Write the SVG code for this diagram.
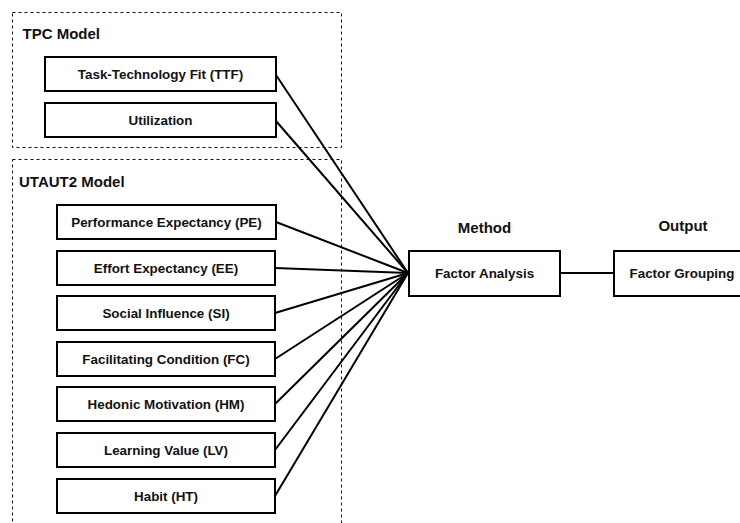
<svg xmlns="http://www.w3.org/2000/svg" width="740" height="523" viewBox="0 0 740 523">
<style>
.grp{fill:none;stroke:#111;stroke-width:1;stroke-dasharray:3 3}
.box{fill:#fff;stroke:#000;stroke-width:2}
.lbl{font-family:"Liberation Sans",Arial,sans-serif;font-weight:bold;font-size:13.4px;fill:#111;text-anchor:middle}
.ttl{font-family:"Liberation Sans",Arial,sans-serif;font-weight:bold;font-size:15px;fill:#111}
.con{stroke:#000;stroke-width:2;fill:none}
</style>
<rect width="740" height="523" fill="#fff"/>
<g id="tpc-group">
<rect class="grp" x="12.5" y="12.5" width="329" height="135"/>
<text class="ttl" x="22.5" y="39">TPC Model</text>
</g>
<g id="utaut2-group">
<rect class="grp" x="12.5" y="159.5" width="329" height="380"/>
<text class="ttl" x="19" y="187">UTAUT2 Model</text>
</g>
<g id="connectors">
<line class="con" x1="276" y1="75" x2="408" y2="273"/>
<line class="con" x1="276" y1="121" x2="408" y2="273"/>
<line class="con" x1="276" y1="222" x2="408" y2="273"/>
<line class="con" x1="275" y1="268" x2="408" y2="273"/>
<line class="con" x1="275" y1="313" x2="408" y2="273"/>
<line class="con" x1="275" y1="359" x2="408" y2="273"/>
<line class="con" x1="275" y1="404" x2="408" y2="273"/>
<line class="con" x1="275" y1="450" x2="408" y2="273"/>
<line class="con" x1="275" y1="496" x2="408" y2="273"/>
<line class="con" x1="560" y1="273" x2="614" y2="273"/>
</g>
<g id="ttf"><rect class="box" x="45" y="57" width="231" height="34"/><text class="lbl" x="160.5" y="78.8">Task-Technology Fit (TTF)</text></g>
<g id="utilization"><rect class="box" x="45" y="103" width="231" height="34"/><text class="lbl" x="160.5" y="124.8">Utilization</text></g>
<g id="pe"><rect class="box" x="57" y="205" width="219" height="34"/><text class="lbl" x="166.5" y="226.8">Performance Expectancy (PE)</text></g>
<g id="ee"><rect class="box" x="57" y="251" width="218" height="34"/><text class="lbl" x="166" y="272.8">Effort Expectancy (EE)</text></g>
<g id="si"><rect class="box" x="57" y="296" width="218" height="34"/><text class="lbl" x="166" y="317.8">Social Influence (SI)</text></g>
<g id="fc"><rect class="box" x="57" y="342" width="218" height="34"/><text class="lbl" x="166" y="363.8">Facilitating Condition (FC)</text></g>
<g id="hm"><rect class="box" x="57" y="387" width="218" height="34"/><text class="lbl" x="166" y="408.8">Hedonic Motivation (HM)</text></g>
<g id="lv"><rect class="box" x="57" y="433" width="218" height="34"/><text class="lbl" x="166" y="454.8">Learning Value (LV)</text></g>
<g id="ht"><rect class="box" x="57" y="479" width="218" height="34"/><text class="lbl" x="166" y="500.8">Habit (HT)</text></g>
<g id="method">
<text class="ttl" x="484.5" y="233" text-anchor="middle">Method</text>
<rect class="box" x="409" y="251" width="151" height="45"/>
<text class="lbl" x="484.5" y="278">Factor Analysis</text>
</g>
<g id="output">
<text class="ttl" x="683" y="231" text-anchor="middle">Output</text>
<rect class="box" x="614" y="251" width="140" height="45"/>
<text class="lbl" x="682" y="278">Factor Grouping</text>
</g>
</svg>
